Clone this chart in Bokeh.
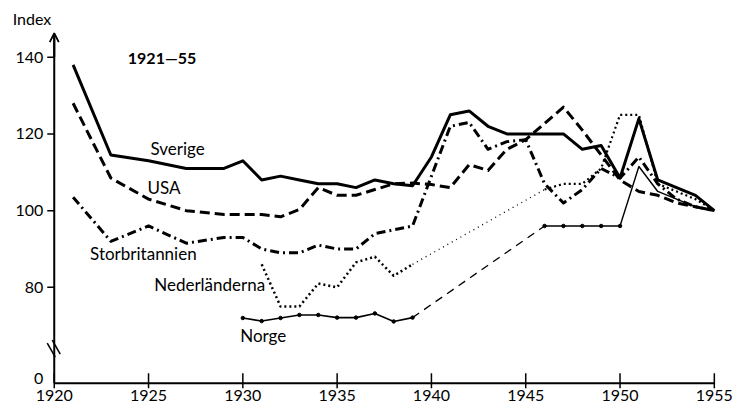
from bokeh.plotting import figure
from bokeh.models import Arrow, OpenHead, Label, Range1d
from bokeh.embed import file_html
from bokeh.resources import INLINE
from bokeh.core.properties import value

FONT = "Lato"

# ---- data ----
se_years = [1921, 1923, 1925, 1927, 1929, 1930, 1931, 1932, 1933, 1934, 1935, 1936, 1937, 1938, 1939,
            1940, 1941, 1942, 1943, 1944, 1945, 1946, 1947, 1948, 1949, 1950, 1951, 1952, 1953, 1954, 1955]
se_vals = [138, 114.5, 113, 111, 111, 113, 108, 109, 108, 107, 107, 106, 108, 107, 106.5,
           114, 125, 126, 122, 120, 120, 120, 120, 116, 117, 108.5, 124, 108, 106, 104, 100]

us_years = [1921, 1923, 1925, 1927, 1929, 1930, 1931, 1932, 1933, 1934, 1935, 1936, 1937, 1938, 1939,
            1940, 1941, 1942, 1943, 1944, 1945, 1947, 1948, 1949, 1950, 1951, 1952, 1953, 1954, 1955]
us_vals = [128, 108.5, 103, 100, 99, 99, 99, 98.4, 100.3, 106, 104, 104, 105.5, 107, 107.2,
           106.8, 106, 112, 110.5, 116, 118.5, 127, 121, 114.5, 108, 105, 104, 102, 101, 100]

gb_years = [1921, 1923, 1925, 1927, 1929, 1930, 1931, 1932, 1933, 1934, 1935, 1936, 1937, 1938, 1939,
            1940, 1941, 1942, 1943, 1944, 1945, 1946, 1947, 1948, 1949, 1950, 1951, 1952, 1953, 1954, 1955]
gb_vals = [103.5, 92, 96, 91.5, 93, 93, 90, 89, 89, 91, 90, 90, 94, 95, 96,
           109, 122, 123, 116, 118, 118.5, 107, 102, 105.5, 111, 108.5, 114, 107, 103, 101, 100]

nl_years = [1931, 1932, 1933, 1934, 1935, 1936, 1937, 1938, 1939,
            1946, 1947, 1948, 1949, 1950, 1951, 1952, 1953, 1954, 1955]
nl_vals = [86, 75, 75, 81, 80, 86.5, 88, 83, 86,
           105.5, 107, 107, 111, 125, 125, 107, 105, 103, 100]

no_years = [1930, 1931, 1932, 1933, 1934, 1935, 1936, 1937, 1938, 1939,
            1946, 1947, 1948, 1949, 1950, 1951, 1952, 1953, 1954, 1955]
no_vals = [72, 71.2, 72, 72.8, 72.8, 72.1, 72.1, 73.2, 71.1, 72.1,
           96, 96, 96, 96, 96, 111.5, 105, 103, 101, 100]

x_ticks = [1920, 1925, 1930, 1935, 1940, 1945, 1950, 1955]
x_tick_text = [str(t) for t in x_ticks]
y_ticks = [55, 80, 100, 120, 140]          # 55 stands for the broken-axis "0"
y_tick_text = ["0", "80", "100", "120", "140"]

series_names = ["Sverige", "USA", "Storbritannien", "Nederländerna", "Norge"]
title_text = "1921\u201455"
y_title = "Index"

X0, Y0, X1 = 1920, 55, 1955   # axis origin and end
PX_X = 1 / 18.86              # one pixel in years
PX_Y = 1 / 3.835              # one pixel in index units

# ---- figure ----
p = figure(width=734, height=410, output_backend="svg", toolbar_location=None,
           x_range=Range1d(1917.15, 1956.07), y_range=Range1d(48.4, 153.5),
           x_axis_location=None, y_axis_location=None,
           min_border_left=0, min_border_right=0, min_border_top=5, min_border_bottom=2)
p.outline_line_color = None
p.grid.visible = False
p.background_fill_color = "white"

black = "black"
# ---- hand-drawn x axis ----
p.segment(x0=[X0], y0=[Y0], x1=[X1], y1=[Y0], line_width=2, line_color=black)
p.segment(x0=x_ticks, y0=[Y0 - 5 * PX_Y] * len(x_ticks), x1=x_ticks, y1=[Y0 + 10 * PX_Y] * len(x_ticks),
          line_width=1.5, line_color=black)
p.text(x=x_ticks, y=[Y0 - 7 * PX_Y] * len(x_ticks), text=x_tick_text,
       text_align="center", text_baseline="top", text_font=value(FONT),
       text_font_size="16px", text_color=black)

# ---- hand-drawn y axis (broken axis) ----
p.segment(x0=[X0], y0=[Y0], x1=[X0], y1=[145.6], line_width=2, line_color=black)
p.add_layout(Arrow(end=OpenHead(size=9, line_width=1.8, line_color=black),
                   x_start=X0, y_start=140, x_end=X0, y_end=146.3,
                   line_width=2, line_color=black))
p.segment(x0=[X0 - 7 * PX_X] * len(y_ticks[1:]), y0=y_ticks[1:], x1=[X0] * len(y_ticks[1:]), y1=y_ticks[1:],
          line_width=1.5, line_color=black)
p.text(x=[X0 - 11 * PX_X] * len(y_ticks), y=[y_ticks[0] + 5 * PX_Y] + y_ticks[1:], text=y_tick_text,
       text_align="right", text_baseline="middle", text_font=value(FONT),
       text_font_size="16px", text_color=black)
# axis break marks
p.segment(x0=[X0 - 7 * PX_X, X0 - 2 * PX_X], y0=[Y0 + 40 * PX_Y, Y0 + 43 * PX_Y],
          x1=[X0 + 1 * PX_X, X0 + 6 * PX_X], y1=[Y0 + 26 * PX_Y, Y0 + 29 * PX_Y],
          line_width=1.5, line_color=black)

common = dict(line_color=black, line_join="round")

# Sverige
p.line(se_years, se_vals, line_width=3, **common)
# USA
p.line(us_years, us_vals, line_width=3, line_dash="10 5", **common)
# Storbritannien
p.line(gb_years, gb_vals, line_width=3, line_dash="9 4 2 4", **common)
# Nederländerna
p.line(nl_years[:9], nl_vals[:9], line_width=2.5, line_dash="2 3", **common)
p.line(nl_years[8:10], nl_vals[8:10], line_width=1.3, line_dash="1 4", **common)
p.line(nl_years[9:], nl_vals[9:], line_width=2.2, line_dash="2 3", **common)
# Norge
p.line(no_years[:10], no_vals[:10], line_width=1.6, **common)
p.line(no_years[9:11], no_vals[9:11], line_width=1.3, line_dash="8 6", **common)
p.line(no_years[10:], no_vals[10:], line_width=1.4, **common)
p.scatter(no_years[:15], no_vals[:15], size=3.5, color=black)

lbl = dict(text_font=FONT, text_font_size="17px", text_baseline="middle", text_color=black)
p.add_layout(Label(x=1925.1, y=116.2, text=series_names[0], **lbl))
p.add_layout(Label(x=1924.95, y=106.1, text=series_names[1], **lbl))
p.add_layout(Label(x=1921.9, y=88.9, text=series_names[2], **lbl))
p.add_layout(Label(x=1925.3, y=80.8, text=series_names[3], **lbl))
p.add_layout(Label(x=1929.86, y=67.5, text=series_names[4], **lbl))
p.add_layout(Label(x=1923.9, y=140, text=title_text, text_font_style="bold",
                   text_font=FONT, text_font_size="16px", text_baseline="middle",
                   text_color=black))
p.add_layout(Label(x=1917.8, y=150.2, text=y_title, text_font=FONT, text_font_size="16px",
                   text_baseline="middle", text_color=black))

open("out.html", "w").write(file_html(p, INLINE))
